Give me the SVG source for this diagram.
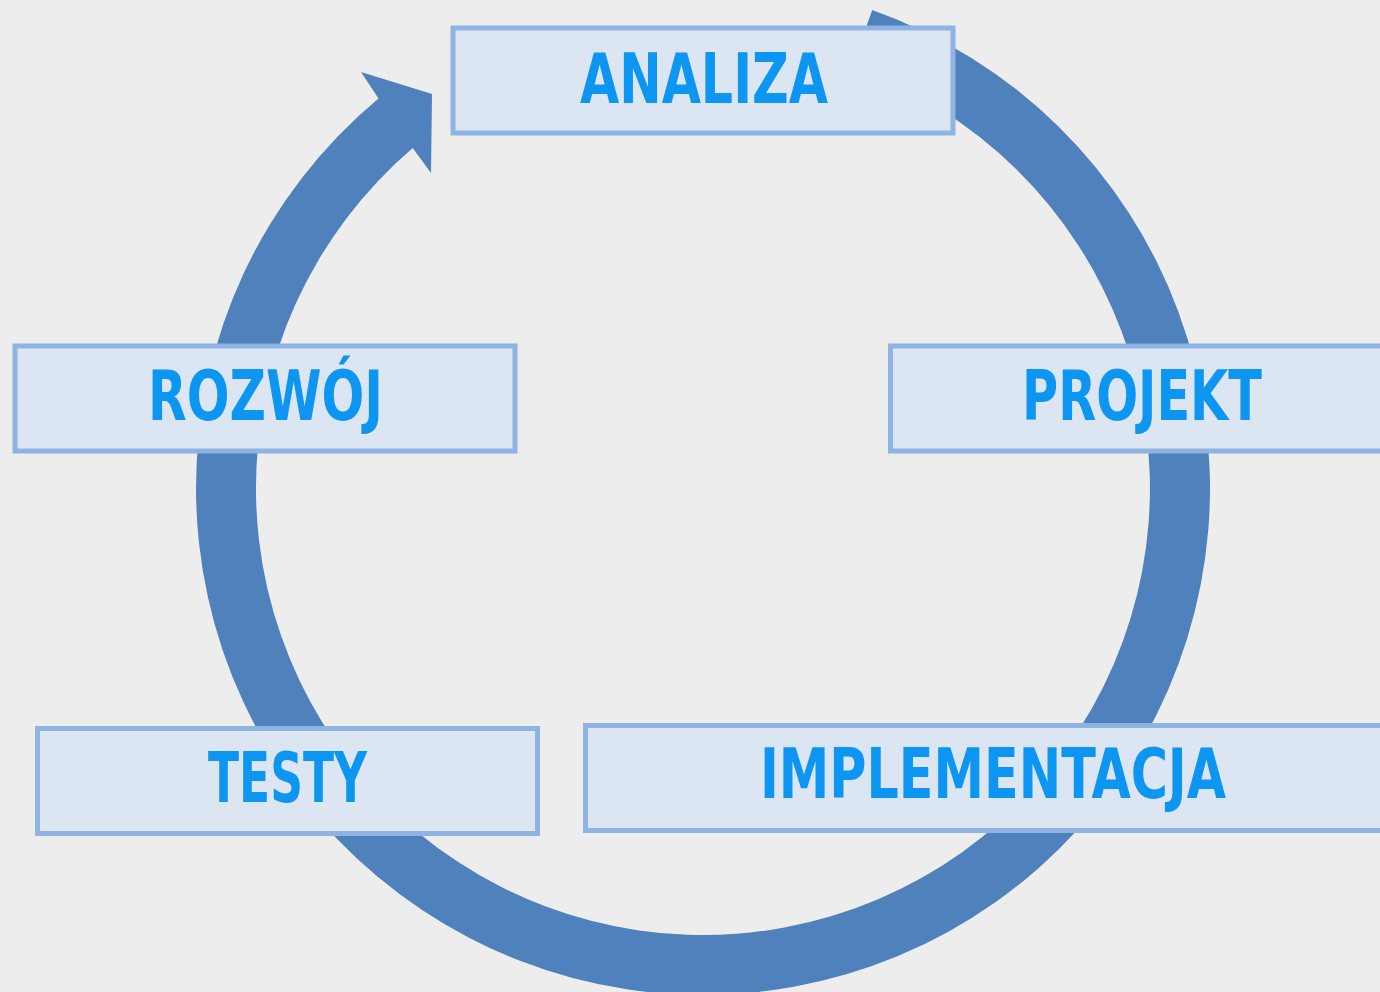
<svg xmlns="http://www.w3.org/2000/svg" width="1380" height="992" viewBox="0 0 1380 992">
<style>
.box{fill:#DCE6F2;stroke:#8EB4E3;stroke-width:5}
.lbl{font-family:"DejaVu Sans","Liberation Sans",sans-serif;font-weight:bold;font-stretch:condensed;font-size:70px;fill:#0C96F1;text-anchor:middle}
.ring{fill:#4F81BD}
</style>
<rect width="1380" height="992" fill="#EDEDED"/>
<g id="connectors">
<path class="ring" d="M872.2,10.1 A507,507 0 1 1 378.5,98.5 L361,72 L432,94 L431,173 L412.7,148.1 A447,447 0 1 0 852.2,66.7 Z"/>
</g>
<g id="analiza">
<rect class="box" x="453" y="28" width="500" height="105"/>
<text class="lbl" x="704" y="103" textLength="248" lengthAdjust="spacingAndGlyphs">ANALIZA</text>
</g>
<g id="projekt">
<rect class="box" x="890.5" y="346" width="500" height="105"/>
<text class="lbl" x="1142" y="420" textLength="240" lengthAdjust="spacingAndGlyphs">PROJEKT</text>
</g>
<g id="rozwoj">
<rect class="box" x="15" y="346" width="500" height="105"/>
<text class="lbl" x="265.5" y="420" textLength="235" lengthAdjust="spacingAndGlyphs">ROZWÓJ</text>
</g>
<g id="testy">
<rect class="box" x="37.5" y="728.5" width="500" height="105"/>
<text class="lbl" x="287.5" y="802" textLength="159" lengthAdjust="spacingAndGlyphs">TESTY</text>
</g>
<g id="implementacja">
<rect class="box" x="585.5" y="725.5" width="815" height="105"/>
<text class="lbl" x="993" y="798" textLength="466" lengthAdjust="spacingAndGlyphs">IMPLEMENTACJA</text>
</g>
</svg>
